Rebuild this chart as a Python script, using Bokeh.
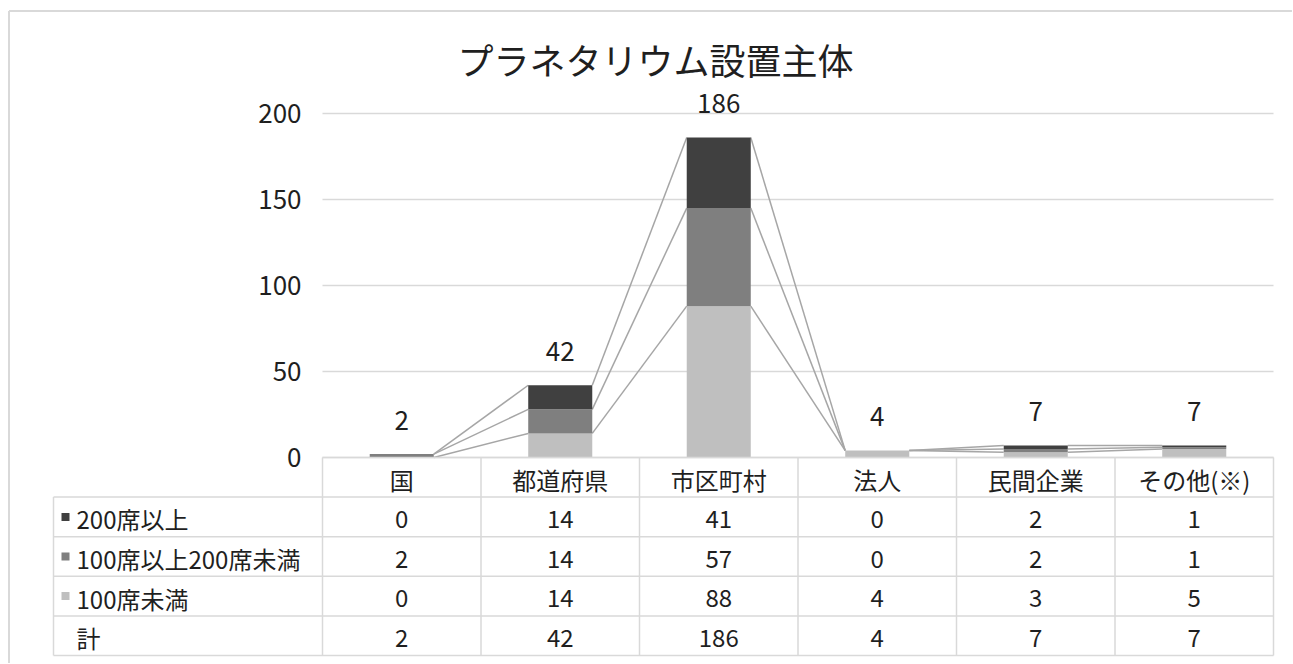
import numpy as np
from bokeh.plotting import figure
from bokeh.models import Range1d, FixedTicker
from bokeh.embed import file_html
from bokeh.resources import INLINE
from bokeh.core.properties import value

# ---------------- data ----------------
title_text = "プラネタリウム設置主体"
categories = ["国", "都道府県", "市区町村", "法人", "民間企業", "その他(※)"]
series_names = ["200席以上", "100席以上200席未満", "100席未満"]
seats_200_plus = [0, 14, 41, 0, 2, 1]
seats_100_to_200 = [2, 14, 57, 0, 2, 1]
seats_under_100 = [0, 14, 88, 4, 3, 5]
total_name = "計"
y_ticks = [0, 50, 100, 150, 200]

# ---------------- styles / layout constants (pixels) ----------------
FONT_NAME = "Noto Sans CJK JP"
FONT = value(FONT_NAME)
TXT = "#1f1f1f"
GRID = "#d9d9d9"
SERIES_LINE = "#a6a6a6"
COLORS = {"200席以上": "#404040", "100席以上200席未満": "#7f7f7f", "100席未満": "#bfbfbf"}
BAR_W = 0.404

W, H = 1292, 663
FRAME_LEFT_PX, FRAME_RIGHT_PX = 7, 0
FRAME_TOP_PX, FRAME_BOTTOM_PX = 9, 0
PLOT_X0_PX = 322          # x of first category column
PLOT_Y0_PX = 457          # y of value 0
COL_W = 158.5             # px per category
PX_PER_UNIT_Y = 86 / 50
LABEL_COL_PX = 269
ROW_PX = 39.6
BORDER_X_PX, BORDER_Y_PX = 8.5, 10.5
TITLE_CX_PX, TITLE_CY_PX = 655, 58
TICK_LABEL_RIGHT_PX = 302


def px_x(v):
    return (v - PLOT_X0_PX) / COL_W


def px_y(v):
    return (PLOT_Y0_PX - v) / PX_PER_UNIT_Y


n = len(categories)
idx = np.arange(n)
xc = idx + 0.5
under = np.array(seats_under_100)
mid = np.array(seats_100_to_200)
top = np.array(seats_200_plus)
cum1 = under
cum2 = under + mid
cum3 = under + mid + top
totals = cum3

x_start, x_end = px_x(FRAME_LEFT_PX), px_x(W - FRAME_RIGHT_PX)
y_start, y_end = px_y(H - FRAME_BOTTOM_PX), px_y(FRAME_TOP_PX)

p = figure(width=W, height=H, x_range=Range1d(x_start, x_end), y_range=Range1d(y_start, y_end),
           x_axis_location=None, toolbar_location=None, output_backend="svg",
           min_border_left=FRAME_LEFT_PX, min_border_right=FRAME_RIGHT_PX,
           min_border_top=FRAME_TOP_PX, min_border_bottom=FRAME_BOTTOM_PX)
p.outline_line_color = None

p.yaxis.ticker = FixedTicker(ticks=y_ticks)
p.yaxis.axis_line_color = None
p.yaxis.major_tick_line_color = None
p.yaxis.minor_tick_line_color = None
p.yaxis.major_label_text_font = FONT_NAME
p.yaxis.major_label_text_font_size = "26px"
p.yaxis.major_label_text_color = TXT
p.yaxis.major_label_standoff = -(TICK_LABEL_RIGHT_PX - FRAME_LEFT_PX + 5)
p.grid.visible = False

# outer chart-area border (left and top edges)
bx, by = px_x(BORDER_X_PX), px_y(BORDER_Y_PX)
p.segment(x0=[bx, bx], y0=[y_start, by], x1=[bx, x_end], y1=[by, by],
          line_color=GRID, line_width=2)

# title
p.text(x=[px_x(TITLE_CX_PX)], y=[px_y(TITLE_CY_PX)], text=[title_text],
       text_align="center", text_baseline="middle", text_font=FONT,
       text_font_size="36px", text_color=TXT)

# gridlines over the plot area
p.segment(x0=[0] * len(y_ticks), y0=y_ticks, x1=[n] * len(y_ticks), y1=y_ticks,
          line_color=GRID, line_width=1.5)

# series lines
for level in (cum1, cum2, cum3):
    p.segment(x0=xc[:-1] + BAR_W / 2, y0=level[:-1],
              x1=xc[1:] - BAR_W / 2, y1=level[1:],
              line_color=SERIES_LINE, line_width=1.5)

src = dict(x=xc, under=under, mid=mid, top=top)
p.vbar_stack(["under", "mid", "top"], x="x", width=BAR_W, source=src,
             color=[COLORS["100席未満"], COLORS["100席以上200席未満"], COLORS["200席以上"]],
             line_color=None)

p.text(x=xc, y=totals, text=[str(v) for v in totals], text_align="center",
       text_baseline="middle", y_offset=-34, text_font=FONT,
       text_font_size="26px", text_color=TXT)

# ---------------- data table (below the value axis) ----------------
L = LABEL_COL_PX / COL_W
RU = ROW_PX / PX_PER_UNIT_Y
rows = [("200席以上", seats_200_plus), ("100席以上200席未満", seats_100_to_200),
        ("100席未満", seats_under_100), (total_name, list(totals))]
n_lines = len(rows) + 1

hy = [-k * RU for k in range(n_lines + 1)]
hx0 = [0] + [-L] * n_lines
hx1 = [n] * (n_lines + 1)
p.segment(x0=hx0, y0=hy, x1=hx1, y1=hy, line_color=GRID, line_width=1.5)
vx = [-L] + list(range(n + 1))
vy0 = [-RU] + [0] * (n + 1)
vy1 = [-n_lines * RU] * (n + 2)
p.segment(x0=vx, y0=vy0, x1=vx, y1=vy1, line_color=GRID, line_width=1.5)

p.text(x=xc, y=[-0.5 * RU] * n, text=categories, text_align="center",
       text_baseline="middle", y_offset=2, text_font=FONT, text_font_size="24px",
       text_color=TXT)

for r, (name, vals) in enumerate(rows):
    yy = -(r + 1.5) * RU
    p.text(x=xc, y=[yy] * n, text=[str(v) for v in vals], text_align="center",
           text_baseline="middle", y_offset=2, text_font=FONT, text_font_size="24px",
           text_color=TXT)
    p.text(x=[-L], y=[yy], text=[name], text_align="left", text_baseline="middle",
           x_offset=23, y_offset=2, text_font=FONT, text_font_size="24px", text_color=TXT)
    if name in COLORS:
        p.rect(x=[-L + 12 / COL_W], y=[yy], width=8, height=8, width_units="screen",
               height_units="screen", fill_color=COLORS[name], line_color=None)

open("out.html", "w").write(file_html(p, INLINE))
